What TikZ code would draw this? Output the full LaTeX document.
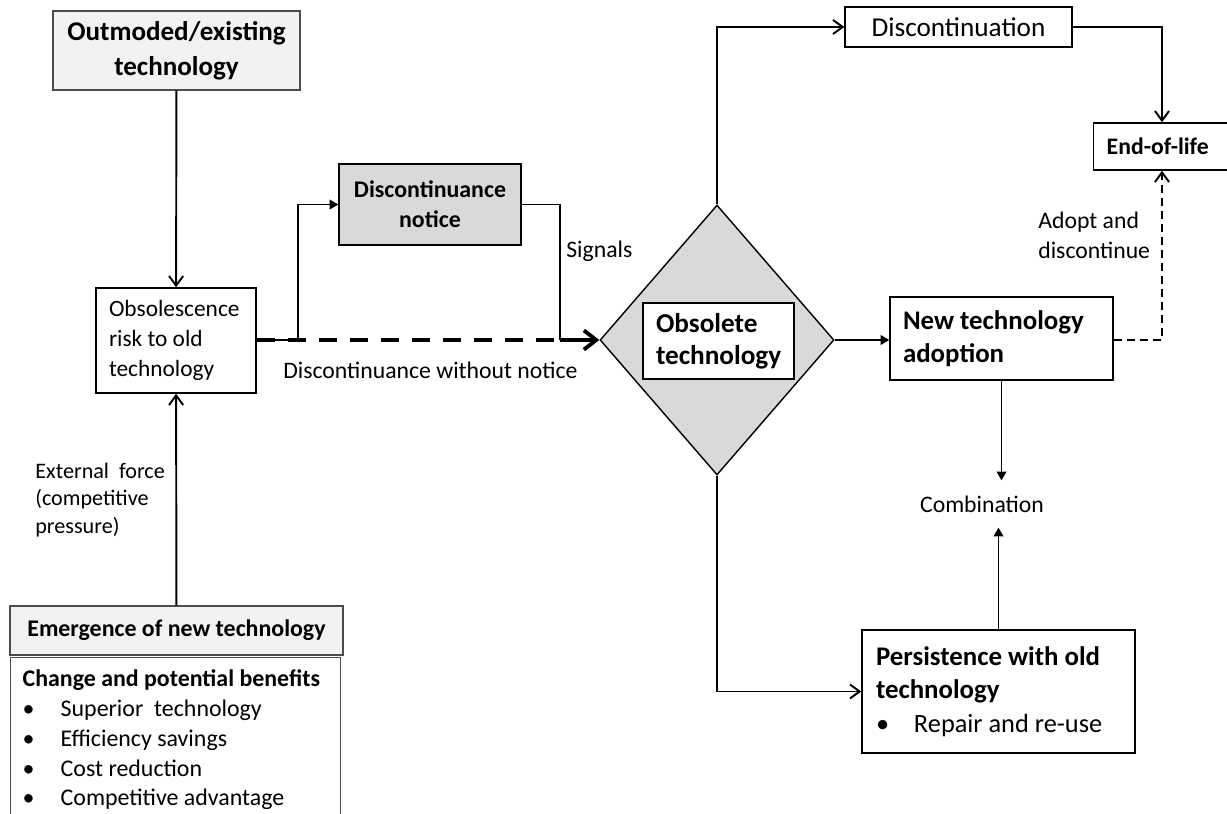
\documentclass[tikz,border=0pt]{standalone}
\usepackage{fontspec}
\setmainfont{Carlito}
\usepackage{tikz}
\usetikzlibrary{shapes.geometric,arrows.meta}
\newdimen\px \px=0.02cm
\definecolor{lightbox}{HTML}{F2F2F2}
\definecolor{midbox}{HTML}{D9D9D9}
\newcommand{\labfont}{\fontsize{13.5}{17}\selectfont}
\newcommand{\bul}{\makebox[38\px][l]{•}}
\tikzstyle{block} = [rectangle, draw, line width=0.8pt, inner sep=0pt, fill=white]
\tikzstyle{greybox} = [block, draw=black!70, fill=lightbox]
\tikzstyle{lab} = [inner sep=0pt, align=flush left, font=\labfont]
\tikzstyle{line} = [draw, line width=1.1pt, -{Straight Barb[length=5.5pt,width=8pt]}]
\tikzstyle{fline} = [draw, line width=1.1pt, -{Triangle[length=5pt,width=5.5pt]}]

\begin{document}
\begin{tikzpicture}[x=0.02cm, y=-0.02cm]
\useasboundingbox (0,0) rectangle (1227,814);
\clip (0,0) rectangle (1227,814);

\node [greybox, minimum width=247\px, minimum height=79\px, align=center, font=\bfseries\fontsize{15.4}{20}\selectfont] (old) at (176.5,50.5) {Outmoded/existing\\technology};
\node [block, inner xsep=13\px, text width=134\px, minimum height=105\px, align=flush left, font=\fontsize{13.3}{17}\selectfont] (risk) at (176,340.5) {Obsolescence\\risk to old\\technology};
\node [greybox, minimum width=333\px, minimum height=49\px, font=\bfseries\fontsize{13.6}{17}\selectfont] (emerg) at (176.5,630.5) {Emergence of new technology};
\node [block, draw=black!70, anchor=north west, inner xsep=12\px, inner ysep=12\px, text width=306\px, align=flush left, font=\fontsize{13.6}{17}\selectfont] (benef) at (10,657) {\textbf{Change and potential benefits}\\\bul Superior\ \ technology\\\bul Efficiency savings\\\bul Cost reduction\\\bul Competitive advantage\\\mbox{}\\\mbox{}};

\node [block, fill=midbox, minimum width=182\px, minimum height=81\px, align=center, font=\bfseries\fontsize{13.6}{17}\selectfont] (notice) at (430,204.5) {Discontinuance\\notice};
\node [diamond, draw, line width=0.8pt, fill=midbox, inner sep=0pt, minimum width=234\px, minimum height=270\px] (dia) at (717,340) {};
\node [block, inner xsep=13\px, text width=125\px, minimum height=76\px, align=flush left, font=\bfseries\fontsize{15.5}{18}\selectfont] (obs) at (718.5,341) {Obsolete\\technology};

\node [block, minimum width=227\px, minimum height=40\px, font=\fontsize{15.5}{18}\selectfont] (disc) at (958.5,27) {Discontinuation};
\node [block, anchor=west, inner xsep=13\px, text width=124\px, minimum height=47\px, align=flush left, font=\bfseries\fontsize{13.5}{17}\selectfont] (eol) at (1093,146.5) {End-of-life};
\node [block, inner xsep=13\px, text width=197\px, minimum height=83\px, align=flush left, font=\bfseries\fontsize{15.3}{19}\selectfont] (nta) at (1001.5,338.5) {New technology\\adoption};
\node [lab, inner ysep=15\px] (comb) at (982,504) {Combination};
\node [block, inner xsep=14\px, text width=245\px, minimum height=123\px, align=flush left, font=\fontsize{15}{19}\selectfont] (pers) at (998.5,691.5) {\textbf{\fontsize{15.3}{19}\selectfont Persistence with old}\\\textbf{\fontsize{15.3}{19}\selectfont technology}\\\bul Repair and re-use};

\node [lab, anchor=west, font=\fontsize{12.6}{15.6}\selectfont] (ext) at (35,500) {External\ \ force\\(competitive\\pressure)};
\node [lab, anchor=west] (sig) at (566,251) {Signals};
\node [lab, anchor=west] (without) at (283,370) {Discontinuance without notice};
\node [lab, anchor=west] (adopt) at (1038,235) {Adopt and\\discontinue};

\coordinate (j1) at (298,340);
\coordinate (j2) at (560,340);
\coordinate (j3) at (1162,27);

\path [line] (old) -- (risk);
\path [line] (emerg) -- (risk);
\path [fline] (risk.east |- j1) -- (j1) |- (notice.west);
\draw [line width=2.2pt, dash pattern=on 18\px off 13\px] (risk.east |- j1) -- (j2);
\draw [line width=1.1pt] (notice.east) -| (j2);
\path [draw, line width=2.2pt, -{Straight Barb[length=7pt,width=11pt]}] (j2) -- (dia.west);
\path [line] (dia.north) |- (disc.west);
\path [line] (disc.east) -- (j3) -- (j3 |- eol.north);
\path [fline] (dia.east) -- (dia.east -| nta.west);
\path [line, dash pattern=on 8\px off 5\px] (nta.east |- dia.east) -| (j3 |- eol.south);
\path [fline] (nta.south) -- (nta.south |- comb.north);
\path [fline] (pers.north) -- (pers.north |- comb.south);
\path [line] (dia.south) |- (pers.west);
\end{tikzpicture}
\end{document}
